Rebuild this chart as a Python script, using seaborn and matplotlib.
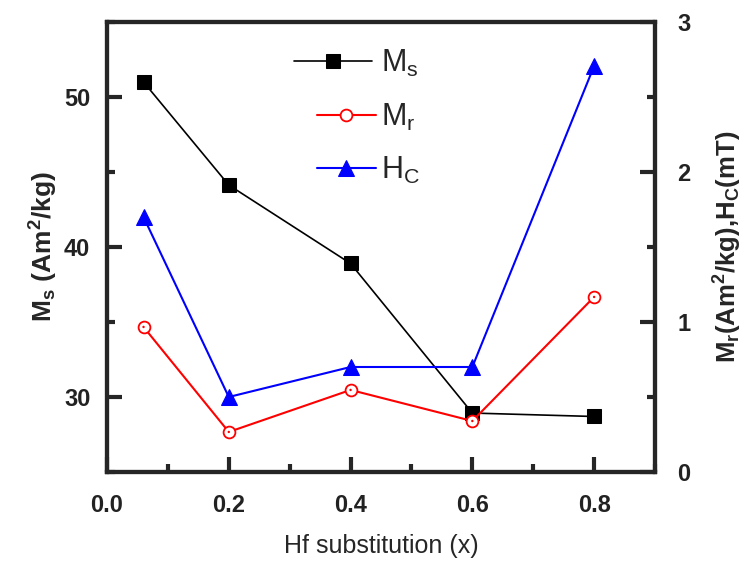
import numpy as np
import pandas as pd
import matplotlib
matplotlib.use("Agg")
import matplotlib.pyplot as plt
import seaborn as sns
from matplotlib.ticker import MultipleLocator
from matplotlib.legend_handler import HandlerLine2D

# ---- data ----
x_values = [0.06, 0.2, 0.4, 0.6, 0.8]
ms_values = [51.0, 44.13, 38.9, 28.93, 28.7]
mr_values = [0.967, 0.267, 0.547, 0.34, 1.167]
hc_values = [1.70, 0.50, 0.70, 0.70, 2.707]
x_ticks = [0.0, 0.2, 0.4, 0.6, 0.8]
left_ticks = [30, 40, 50]
right_ticks = [0, 1, 2, 3]

sns.set_style("ticks")
plt.rcParams["font.family"] = ["Liberation Sans", "DejaVu Sans"]
plt.rcParams["mathtext.fontset"] = "custom"
plt.rcParams["mathtext.rm"] = "Liberation Sans"
plt.rcParams["mathtext.it"] = "Liberation Sans"
plt.rcParams["mathtext.bf"] = "Liberation Sans:bold"

df = pd.DataFrame({"x": x_values, "Ms": ms_values, "Mr": mr_values, "Hc": hc_values})

fig = plt.figure(figsize=(7.5, 5.61), dpi=100)
ax = fig.add_axes([0.14267, 0.15865, 0.73067, 0.80214])
ax2 = ax.twinx()

sns.lineplot(data=df, x="x", y="Ms", ax=ax, color="black", marker="s",
             markersize=9.5, linewidth=1.2, markeredgecolor="black", label="_ms")
sns.lineplot(data=df, x="x", y="Mr", ax=ax2, color="red", marker="o",
             markersize=8.5, linewidth=1.5, markerfacecolor="white",
             markeredgecolor="red", markeredgewidth=1.3, label="_mr")
sns.scatterplot(data=df, x="x", y="Mr", ax=ax2, color="red", s=3,
                edgecolor="none", legend=False, zorder=5)
sns.lineplot(data=df, x="x", y="Hc", ax=ax2, color="blue", marker="^",
             markersize=11, linewidth=1.5, markeredgecolor="blue", label="_hc")

ax.set_xlim(0.0, 0.9)
ax.set_ylim(25, 55)
ax2.set_ylim(0, 3)

ax.set_xticks(x_ticks)
ax.set_xticklabels([f"{v:.1f}" for v in x_ticks])
ax.xaxis.set_minor_locator(MultipleLocator(0.1))
ax.set_yticks(left_ticks)
ax.yaxis.set_minor_locator(MultipleLocator(5))
ax2.set_yticks(right_ticks)
ax2.yaxis.set_minor_locator(MultipleLocator(0.5))

for a in (ax, ax2):
    for s in a.spines.values():
        s.set_linewidth(3.0)
        s.set_visible(True)
    a.tick_params(which="major", direction="in", length=11, width=3.0,
                  labelsize=17)
    a.tick_params(which="minor", direction="in", length=6, width=3.0)
    for lab in a.get_xticklabels() + a.get_yticklabels():
        lab.set_fontweight("bold")
        lab.set_color("#222222")
ax.tick_params(axis="x", which="both", top=False, pad=16)
ax.tick_params(axis="y", which="both", right=False, pad=12)
ax2.tick_params(axis="y", which="both", left=False, pad=16)

ax.set_xlabel("Hf substitution (x)", fontsize=18, labelpad=12)
ax.set_ylabel(r"M$_\mathregular{s}$ (Am$^\mathregular{2}$/kg)", fontsize=19,
              fontweight="bold", labelpad=3)
ax2.set_ylabel(r"M$_\mathregular{r}$(Am$^\mathregular{2}$/kg),H$_\mathregular{C}$(mT)",
               fontsize=18.5, fontweight="bold", labelpad=15)


class LongHandler(HandlerLine2D):
    def create_artists(self, legend, orig_handle, xdescent, ydescent, width,
                       height, fontsize, trans):
        return super().create_artists(legend, orig_handle, xdescent + 16.5,
                                      ydescent, width + 13.5, height,
                                      fontsize, trans)


ms_line = ax.get_lines()[0]
mr_line = ax2.get_lines()[0]
hc_line = ax2.get_lines()[1]
if ax.get_legend():
    ax.get_legend().remove()
if ax2.get_legend():
    ax2.get_legend().remove()
leg = ax2.legend([ms_line, mr_line, hc_line],
                 [r"M$_\mathregular{s}$", r"M$_\mathregular{r}$", r"H$_\mathregular{C}$"],
                 loc="upper left", bbox_to_anchor=(0.36, 0.97), frameon=False,
                 fontsize=22, handlelength=1.95, labelspacing=0.74, handletextpad=0.15,
                 borderaxespad=0.0, handler_map={ms_line: LongHandler()})

fig.savefig("out.png", dpi=100)
